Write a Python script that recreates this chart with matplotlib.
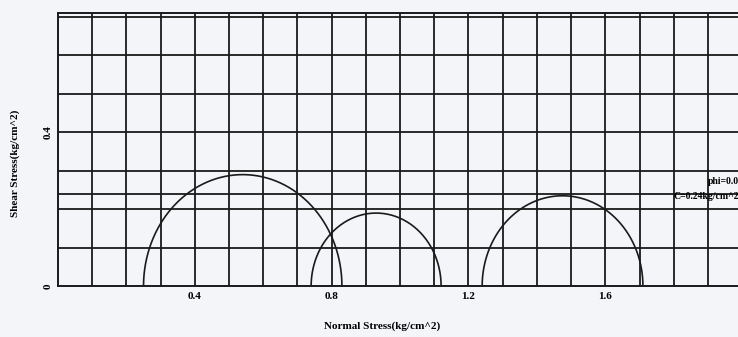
# -*- coding: utf-8 -*-
"""
 Mohr circles - normal stress vs shear stress
"""

import numpy as np
import matplotlib.pyplot as plt

# minor / major principal stresses for each test (kg/cm^2)
sigma3 = [0.25, 0.74, 1.24]
sigma1 = [0.83, 1.12, 1.71]

# failure envelope
phi = 0.0
cohesion = 0.24

x_ticks = [0.4, 0.8, 1.2, 1.6]
x_tick_labels = ["0.4", "0.8", "1.2", "1.6"]
y_ticks = [0, 0.4]
y_tick_labels = ["0", "0.4"]

paper = "#f3f5f8"
font = {"family": "Liberation Serif", "weight": "bold"}

fig = plt.figure(figsize=(7.38, 3.37), dpi=100, facecolor=paper)
ax = fig.add_axes([0.0786, 0.151, 0.927, 0.81], facecolor=paper)

# grid every 0.1 in both directions
for gx in np.arange(0.1, 2.0, 0.1):
    ax.axvline(gx, color="#1a1a1a", lw=1.3, zorder=1)
for gy in np.arange(0.1, 0.71, 0.1):
    ax.axhline(gy, color="#1a1a1a", lw=1.3, zorder=1)

# envelope line tau = c + sigma*tan(phi)
s = np.linspace(0, 2.0, 50)
ax.plot(s, cohesion + s * np.tan(np.radians(phi)), color="#1a1a1a", lw=1.3, zorder=2)

# upper half of each Mohr circle
t = np.linspace(0, np.pi, 200)
for s3, s1 in zip(sigma3, sigma1):
    c = (s1 + s3) / 2
    r = (s1 - s3) / 2
    ax.plot(c + r * np.cos(t), r * np.sin(t), color="#1a1a1a", lw=1.2, zorder=3)

# envelope parameters, tucked against the right edge
ax.text(0.995, 0.385, "phi=%.1f" % phi, transform=ax.transAxes, fontsize=7,
        ha="right", va="center", clip_on=False, **font)
ax.text(0.995, 0.33, "C=%.2fkg/cm^2" % cohesion, transform=ax.transAxes,
        fontsize=7, ha="right", va="center", clip_on=False, **font)

ax.set_xlim(0, 2.0)
ax.set_ylim(0, 0.71)
ax.set_xticks(x_ticks)
ax.set_xticklabels(x_tick_labels, fontsize=8, **font)
ax.set_yticks(y_ticks)
ax.set_yticklabels(y_tick_labels, fontsize=8, rotation=90, va="center", **font)
ax.tick_params(length=0, pad=4)

for sp in ax.spines.values():
    sp.set_color("#1a1a1a")
    sp.set_linewidth(1.4)

ax.set_xlabel("Normal Stress(kg/cm^2)", fontsize=8, **font)
ax.xaxis.set_label_coords(0.474, -0.13)
ax.set_ylabel("Shear Stress(kg/cm^2)", fontsize=8, **font)
ax.yaxis.set_label_coords(-0.055, 0.45)

fig.savefig("out.png", dpi=100, facecolor=paper)
